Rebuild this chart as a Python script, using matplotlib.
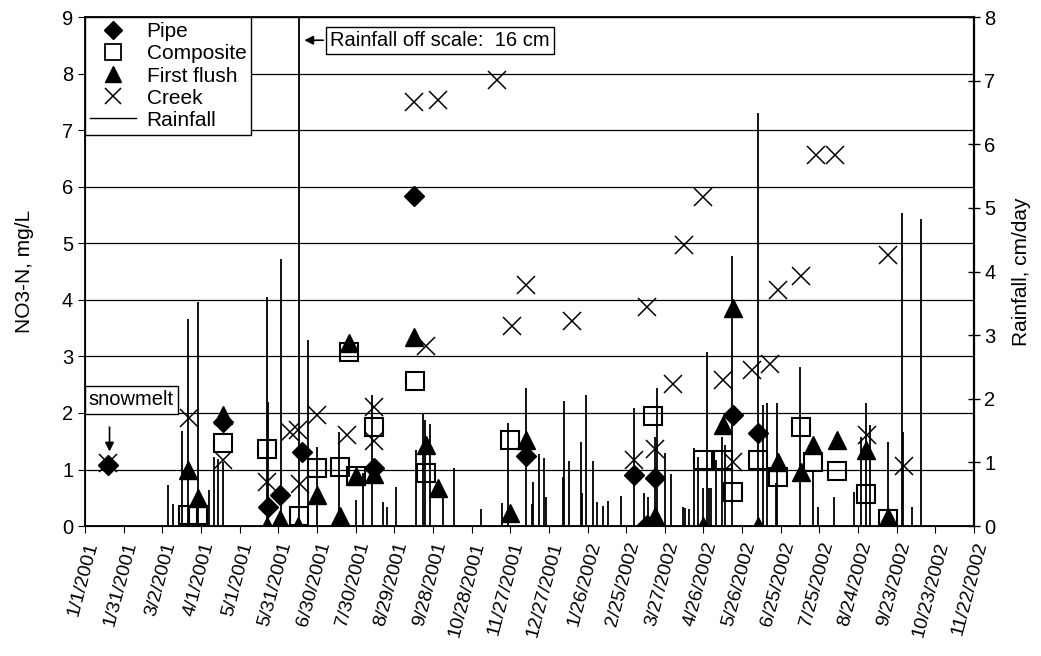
import numpy as np
import matplotlib
matplotlib.use('Agg')
import matplotlib.pyplot as plt
from matplotlib.lines import Line2D

plt.rcParams['font.family'] = ['Liberation Sans', 'DejaVu Sans']
plt.rcParams['font.size'] = 14

# days counted from 1/1/2001
pipe_day = [18, 107, 142, 151, 168, 224, 255, 342, 426, 436, 442, 503, 522]
pipe_val = [1.08, 1.84, 0.34, 0.55, 1.31, 1.02, 5.84, 1.24, 0.90, 0.02, 0.85, 1.96, 1.65]

comp_day = [80, 88, 107, 141, 166, 180, 198, 205, 210, 224, 256, 265, 330, 441,
            480, 495, 503, 522, 538, 556, 565, 584, 606, 623]
comp_val = [0.19, 0.19, 1.47, 1.36, 0.18, 1.03, 1.05, 3.07, 0.88, 1.75, 2.56, 0.94, 1.52, 1.94,
            1.17, 1.17, 0.60, 1.17, 0.87, 1.75, 1.13, 0.97, 0.57, 0.12]

ff_day = [80, 88, 107, 141, 151, 165, 180, 198, 205, 210, 224, 255, 265, 274, 330, 342, 442,
          480, 495, 503, 522, 538, 556, 565, 584, 606, 623]
ff_val = [1.00, 0.50, 1.96, 0.00, 0.12, 0.00, 0.55, 0.17, 3.23, 0.88, 0.92, 3.34, 1.43, 0.67,
          0.23, 1.52, 0.17, 0.00, 1.78, 3.85, 0.00, 1.13, 0.95, 1.43, 1.52, 1.34, 0.16]

creek_day = [18, 81, 107, 141, 159, 165, 167, 180, 203, 224, 224, 255, 265, 274, 320, 331, 342,
             378, 426, 436, 442, 456, 465, 480, 495, 503, 518, 532, 538, 556, 567, 582, 607,
             623, 636]
creek_val = [1.12, 1.92, 1.17, 0.78, 1.66, 1.70, 0.75, 1.96, 1.61, 2.10, 1.50, 7.49, 3.18, 7.53,
             7.88, 3.53, 4.26, 3.62, 1.17, 3.87, 1.36, 2.51, 4.97, 5.81, 2.58, 1.13, 2.76, 2.86,
             4.17, 4.43, 6.57, 6.57, 1.61, 4.80, 1.06]

rain_day = [64, 68, 75, 80, 88, 96, 100, 103, 107, 141, 142, 152, 166, 173, 180, 197, 210, 216,
            223, 231, 234, 241, 257, 262, 264, 268, 278, 286, 307, 324, 328, 342, 347, 348,
            352, 356, 358, 371, 372, 376, 385, 386, 389, 394, 397, 402, 406, 416, 426, 434,
            437, 442, 444, 450, 455, 464, 466, 469, 473, 476, 480, 483, 484, 486, 490, 494,
            497, 502, 522, 526, 529, 536, 537, 555, 565, 569, 581, 597, 602, 606, 609, 623,
            634, 635, 642, 649]
rain_cm = [0.64, 0.35, 1.50, 3.25, 3.52, 0.56, 1.08, 1.05, 1.00, 3.60, 1.95, 4.20, 16.0, 2.92,
           1.24, 1.48, 0.41, 0.83, 2.06, 0.38, 0.30, 0.61, 1.20, 1.78, 1.67, 1.60, 0.46, 0.91,
           0.27, 0.36, 1.62, 2.17, 0.35, 0.69, 1.13, 1.07, 0.46, 0.77, 1.96, 1.02, 1.32, 0.52,
           2.06, 1.02, 0.38, 0.31, 0.39, 0.47, 1.85, 0.52, 0.46, 1.40, 2.17, 1.15, 0.82, 0.30,
           0.28, 0.27, 1.22, 1.09, 0.60, 2.74, 0.60, 0.60, 1.04, 1.40, 1.27, 4.24, 6.49, 1.90,
           1.93, 0.68, 1.93, 2.50, 0.85, 0.30, 0.46, 0.53, 1.40, 1.93, 1.59, 1.32, 4.92, 1.48,
           0.30, 4.83]

date_labels = ['1/1/2001', '1/31/2001', '3/2/2001', '4/1/2001', '5/1/2001', '5/31/2001',
               '6/30/2001', '7/30/2001', '8/29/2001', '9/28/2001', '10/28/2001', '11/27/2001',
               '12/27/2001', '1/26/2002', '2/25/2002', '3/27/2002', '4/26/2002', '5/26/2002',
               '6/25/2002', '7/25/2002', '8/24/2002', '9/23/2002', '10/23/2002', '11/22/2002']

fig = plt.figure(figsize=(10.41, 6.56), dpi=100)
ax = fig.add_axes([0.0817, 0.198, 0.854, 0.776])
ax2 = ax.twinx()

# rainfall on the right axis, drawn under the sample markers
ax2.vlines(rain_day, 0, rain_cm, color='black', lw=1.3)
ax2.set_ylim(0, 8)
ax2.set_yticks(range(0, 9))
ax2.set_ylabel('Rainfall, cm/day', labelpad=12, fontsize=15)
ax2.tick_params(axis='y', direction='inout', length=8, width=1, labelsize=14.5)

ax.set_zorder(ax2.get_zorder() + 1)
ax.patch.set_visible(False)

ms = 13
ax.plot(pipe_day, pipe_val, 'D', color='black', ms=ms * 0.8, ls='none')
ax.plot(comp_day, comp_val, 's', mfc='none', mec='black', mew=1.5, ms=ms, ls='none')
ax.plot(ff_day, ff_val, '^', color='black', ms=ms, ls='none')
ax.plot(creek_day, creek_val, 'x', color='black', mew=1.1, ms=ms, ls='none')

ax.set_xlim(0, 690)
ax.set_ylim(0, 9)
ax.set_yticks(range(0, 10))
ax.set_xticks(np.arange(0, 691, 30))
ax.set_xticklabels(date_labels, rotation=75, ha='right', rotation_mode='anchor', fontsize=14)
ax.tick_params(axis='x', direction='out', length=5, pad=5)
ax.tick_params(axis='y', direction='out', length=5, labelsize=14.5)
ax.yaxis.grid(True, color='black', lw=0.9)
ax.set_ylabel('NO3-N, mg/L', labelpad=20, fontsize=15)
for sp in ax.spines.values():
    sp.set_linewidth(1.3)
ax2.spines['right'].set_linewidth(1.6)

handles = [
    Line2D([], [], marker='D', color='black', ls='none', ms=9),
    Line2D([], [], marker='s', mfc='none', mec='black', mew=1.3, ls='none', ms=11),
    Line2D([], [], marker='^', color='black', ls='none', ms=12),
    Line2D([], [], marker='x', color='black', mew=1.1, ls='none', ms=12),
    Line2D([], [], color='black', lw=1),
]
leg = ax.legend(handles, ['Pipe', 'Composite', 'First flush', 'Creek', 'Rainfall'],
                loc='upper left', bbox_to_anchor=(0, 1), borderaxespad=0, fancybox=False,
                framealpha=1, edgecolor='black', handlelength=2.2, handletextpad=0.5,
                labelspacing=0.15, borderpad=0.25, fontsize=15)
leg.get_frame().set_linewidth(1)

ax.text(3, 2.23, 'snowmelt', ha='left', va='center', fontsize=14.5,
        bbox=dict(boxstyle='square,pad=0.2', fc='white', ec='black', lw=1))
ax.annotate('', xy=(19, 1.27), xytext=(19, 1.8),
            arrowprops=dict(arrowstyle='-|>', color='black', lw=1.2, mutation_scale=13))

ax.text(190, 8.59, 'Rainfall off scale:  16 cm', ha='left', va='center', fontsize=14.5,
        bbox=dict(boxstyle='square,pad=0.2', fc='white', ec='black', lw=1))
ax.annotate('', xy=(168, 8.59), xytext=(187, 8.59),
            arrowprops=dict(arrowstyle='-|>', color='black', lw=1.2, mutation_scale=13))

fig.savefig('out.png', dpi=100)
